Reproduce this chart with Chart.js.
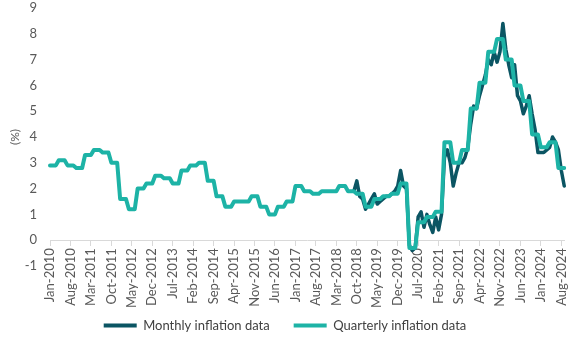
<!DOCTYPE html>
<html>
<head>
<meta charset="utf-8">
<script src="https://cdn.jsdelivr.net/npm/chart.js@4.4.1/dist/chart.umd.min.js"></script>
<style>
html,body{margin:0;padding:0;background:#fff;}
#wrap{width:580px;height:338px;position:relative;}
</style>
</head>
<body>
<div id="wrap"><canvas id="c"></canvas></div>
<script>
// ---- Data ----
const monthNames = ['Jan','Feb','Mar','Apr','May','Jun','Jul','Aug','Sep','Oct','Nov','Dec'];
// Monthly categories Jan-2010 .. Sep-2024
const categories = [];
for (let y = 2010; y <= 2024; y++) {
  for (let m = 0; m < 12; m++) {
    if (y === 2024 && m > 8) break;
    categories.push(monthNames[m] + '-' + y);
  }
}
const tickLabels = ['Jan-2010','Aug-2010','Mar-2011','Oct-2011','May-2012','Dec-2012','Jul-2013',
  'Feb-2014','Sep-2014','Apr-2015','Nov-2015','Jun-2016','Jan-2017','Aug-2017','Mar-2018',
  'Oct-2018','May-2019','Dec-2019','Jul-2020','Feb-2021','Sep-2021','Apr-2022','Nov-2022',
  'Jun-2023','Jan-2024','Aug-2024'];

// Quarterly inflation (%), Q1-2010 .. Q3-2024 (each held over its three months)
const quarterlyValues = [
  2.9, 3.1, 2.9, 2.8,   // 2010
  3.3, 3.5, 3.4, 3.0,   // 2011
  1.6, 1.2, 2.0, 2.2,   // 2012
  2.5, 2.4, 2.2, 2.7,   // 2013
  2.9, 3.0, 2.3, 1.7,   // 2014
  1.3, 1.5, 1.5, 1.7,   // 2015
  1.3, 1.0, 1.3, 1.5,   // 2016
  2.1, 1.9, 1.8, 1.9,   // 2017
  1.9, 2.1, 1.9, 1.8,   // 2018
  1.3, 1.6, 1.7, 1.8,   // 2019
  2.2, -0.3, 0.7, 0.9,  // 2020
  1.1, 3.8, 3.0, 3.5,   // 2021
  5.1, 6.1, 7.3, 7.8,   // 2022
  7.0, 6.0, 5.4, 4.1,   // 2023
  3.6, 3.8, 2.8         // 2024
];

// Monthly inflation (%), Sep-2018 .. Sep-2024
const monthlyStart = 'Sep-2018';
const monthlyValues = [
  1.9, 2.3, 1.7, 1.6,                                         // 2018 Sep-Dec
  1.2, 1.4, 1.6, 1.8, 1.4, 1.5, 1.6, 1.7, 1.7, 1.8, 1.9, 2.1, // 2019
  2.7, 2.1, 2.0, -0.2, -0.4, -0.3, 0.9, 1.1, 0.5, 1.0, 0.6, 0.3, // 2020
  0.9, 0.4, 1.0, 3.2, 3.5, 3.0, 2.1, 2.6, 3.0, 3.0, 3.2, 3.6, // 2021
  4.5, 5.2, 5.1, 5.6, 6.0, 6.4, 7.0, 6.8, 7.3, 6.9, 7.3, 8.4, // 2022
  7.4, 6.8, 6.3, 6.8, 5.6, 5.4, 4.9, 5.2, 5.6, 4.9, 4.3, 3.4, // 2023
  3.4, 3.4, 3.5, 3.6, 4.0, 3.8, 3.5, 2.7, 2.1                 // 2024
];

// ---- Build per-month tables ----
const quarterlySeries = categories.map((c, i) => quarterlyValues[Math.floor(i / 3)]);
const mStartIdx = categories.indexOf(monthlyStart);
const monthlySeries = categories.map((c, i) => (i >= mStartIdx ? monthlyValues[i - mStartIdx] : null));

const FONT = 'Lato, "Open Sans", sans-serif';
const DARK = '#0b5563';
const TEAL = '#1db3a6';

new Chart(document.getElementById('c'), {
  type: 'line',
  data: {
    labels: categories,
    datasets: [
      {
        label: 'Monthly inflation data',
        data: monthlySeries,
        borderColor: DARK,
        backgroundColor: DARK,
        borderWidth: 3.5,
        pointRadius: 0,
        tension: 0,
        borderJoinStyle: 'round',
        borderCapStyle: 'round',
        spanGaps: false,
        order: 1
      },
      {
        label: 'Quarterly inflation data',
        data: quarterlySeries,
        borderColor: TEAL,
        backgroundColor: TEAL,
        borderWidth: 4,
        pointRadius: 0,
        tension: 0,
        borderJoinStyle: 'round',
        borderCapStyle: 'round',
        order: 0
      }
    ]
  },
  options: {
    responsive: true,
    maintainAspectRatio: false,
    animation: false,
    devicePixelRatio: 1,
    layout: { padding: { left: 4, right: 14, top: 0, bottom: -4 } },
    scales: {
      x: {
        type: 'category',
        position: { y: 0 },
        offset: false,
        afterBuildTicks(scale) {
          scale.ticks = scale.ticks.filter(t => tickLabels.includes(categories[t.value]));
        },
        ticks: {
          autoSkip: false,
          maxRotation: 90,
          minRotation: 90,
          padding: 3,
          color: '#595959',
          font: { family: FONT, size: 13 },
          callback(v) { return this.getLabelForValue(v); }
        },
        grid: { display: true, drawOnChartArea: false, drawTicks: true, tickLength: 5, color: '#d9d9d9' },
        border: { display: true, color: '#d9d9d9', width: 1 }
      },
      y: {
        min: -1,
        max: 9,
        afterFit(scale) { scale.width = 46; scale.paddingTop = 8; scale.paddingBottom = 0; },
        ticks: { stepSize: 1, padding: 13, color: '#595959', font: { family: FONT, size: 13 } },
        grid: { display: false, drawTicks: false },
        border: { display: false },
        title: { display: true, text: '(%)', color: '#595959', font: { family: FONT, size: 12 }, padding: { top: 4, bottom: 4 } }
      }
    },
    plugins: {
      tooltip: { enabled: false },
      legend: {
        position: 'bottom',
        align: 'center',
        title: { display: true, text: ' ', color: 'rgba(0,0,0,0)', font: { size: 10, lineHeight: 1 }, padding: { top: 19, bottom: 0 } },
        labels: {
          boxWidth: 33,
          boxHeight: 4,
          padding: 24,
          color: '#404040',
          font: { family: FONT, size: 13 },
          sort: (a, b) => a.datasetIndex - b.datasetIndex,
          generateLabels(chart) {
            const items = Chart.defaults.plugins.legend.labels.generateLabels(chart);
            items.forEach(it => { it.lineWidth = 0; it.fillStyle = it.strokeStyle; });
            return items;
          }
        }
      }
    }
  }
});
</script>
</body>
</html>
